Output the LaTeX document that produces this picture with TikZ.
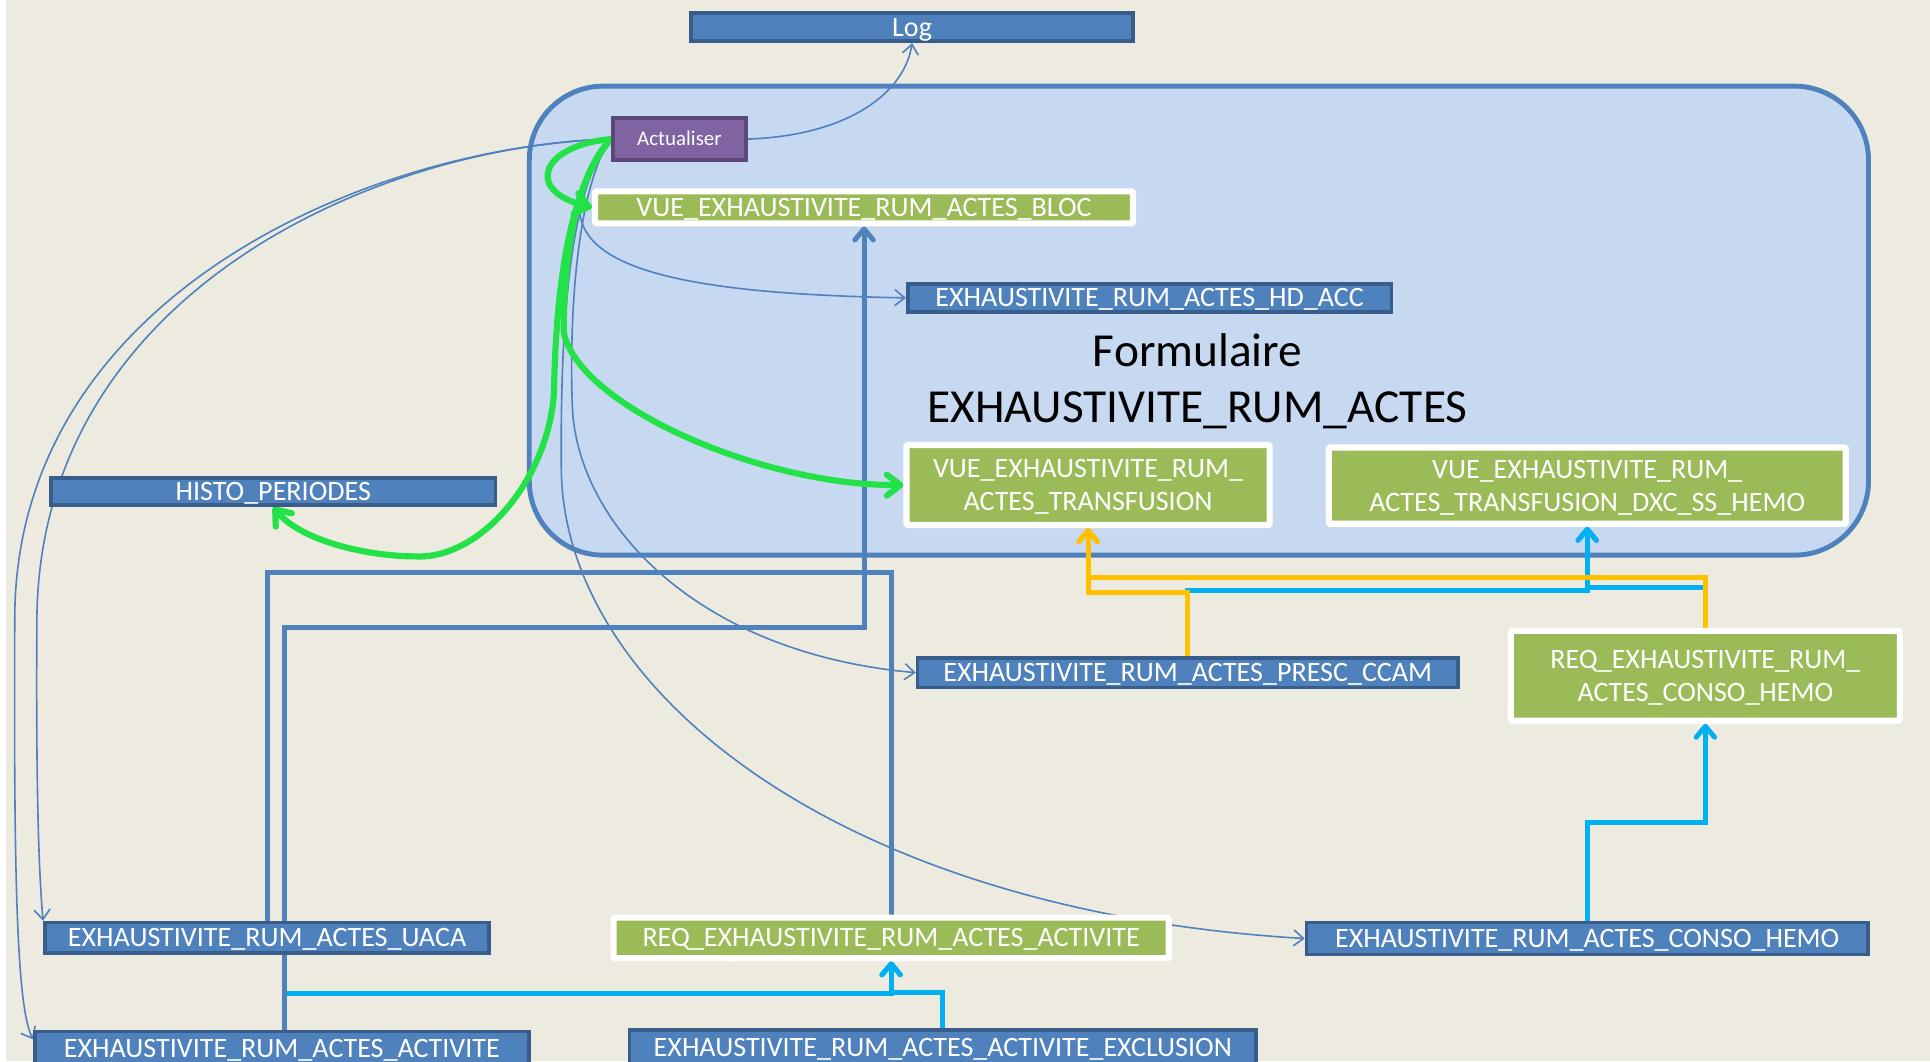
\documentclass[tikz,border=0pt]{standalone}
\usepackage{fontspec}
\setmainfont{Carlito}
\usetikzlibrary{arrows.meta}
\definecolor{bgc}{RGB}{237,235,224}
\definecolor{bfill}{RGB}{79,129,189}
\definecolor{bdark}{RGB}{56,93,138}
\definecolor{gfill}{RGB}{155,187,89}
\definecolor{pfill}{RGB}{128,100,162}
\definecolor{pdark}{RGB}{93,71,120}
\definecolor{cfill}{RGB}{198,217,241}
\definecolor{garrow}{RGB}{35,226,71}
\definecolor{cyanl}{RGB}{0,176,240}
\definecolor{yell}{RGB}{255,192,0}
\pgfdeclarelayer{bglayer}
\pgfdeclarelayer{connlayer}
\pgfsetlayers{bglayer,connlayer,main}
\begin{document}
\begin{tikzpicture}[x=1pt,y=-1pt,
  boxfont/.style={font=\fontsize{22.8}{27}\selectfont, text height=14.7pt, text depth=0pt},
  twoline/.style={text height=41.7pt, text depth=0pt},
  bbox/.style={draw=bdark, fill=bfill, line width=3pt, text=white, inner sep=0pt, boxfont},
  gbox/.style={draw=white, fill=gfill, line width=5pt, text=white, inner sep=0pt, align=center, boxfont, rounded corners=1pt},
  pbox/.style={draw=pdark, fill=pfill, line width=3.5pt, text=white, inner sep=0pt, font=\fontsize{17}{20}\selectfont, text height=11pt, text depth=0pt},
  container/.style={draw=bfill, fill=cfill, line width=4pt, rounded corners=60pt},
  tb/.style={draw=bfill, line width=4pt},
  tbarrow/.style={tb, -{Straight Barb[length=9pt,width=15pt,round]}},
  cyarrow/.style={draw=cyanl, line width=4pt, -{Straight Barb[length=9pt,width=15pt,round]}},
  yarrow/.style={draw=yell, line width=4pt, -{Straight Barb[length=9pt,width=15pt,round]}},
  grarrow/.style={draw=garrow, line width=5pt, -{Straight Barb[length=11pt,width=17pt,round]}},
  thinb/.style={draw=bfill, line width=1.3pt, -{Straight Barb[length=8pt,width=13pt]}}
]
\useasboundingbox (0,0) rectangle (1568,862);
\begin{pgfonlayer}{bglayer}
\clip (0,0) rectangle (1568,862);
\fill[white] (0,0) rectangle (1568,862);
\fill[bgc] (5,0) rectangle (1568,862);
% container
\path[container] (430,70) rectangle (1518,451);
\end{pgfonlayer}

% nodes
\node[bbox, minimum width=359pt, minimum height=23pt] (log) at (741,22) {Log};
\node[pbox, minimum width=108pt, minimum height=34pt] (act) at (552,113) {Actualiser};
\node[gbox, minimum width=437pt, minimum height=26pt] (bloc) at (702,168.5) {VUE\_EXHAUSTIVITE\_RUM\_ACTES\_BLOC};
\node[bbox, minimum width=393pt, minimum height=23pt] (hdacc) at (934,242) {EXHAUSTIVITE\_RUM\_ACTES\_HD\_ACC};
\node[font=\fontsize{38.5}{46}\selectfont, align=center, inner sep=0pt, text height=70.8pt, text depth=0pt] (form) at (973,308) {Formulaire\\EXHAUSTIVITE\_RUM\_ACTES};
\node[gbox, twoline, minimum width=295pt, minimum height=65pt] (transf) at (884,394) {VUE\_EXHAUSTIVITE\_RUM\_\\ACTES\_TRANSFUSION};
\node[gbox, twoline, minimum width=420pt, minimum height=62pt] (dxc) at (1289.5,394.5) {VUE\_EXHAUSTIVITE\_RUM\_\\ACTES\_TRANSFUSION\_DXC\_SS\_HEMO};
\node[bbox, minimum width=361pt, minimum height=22pt] (histo) at (222,399.5) {HISTO\_PERIODES};
\node[bbox, minimum width=439pt, minimum height=24pt] (presc) at (965,546.5) {EXHAUSTIVITE\_RUM\_ACTES\_PRESC\_CCAM};
\node[gbox, twoline, minimum width=316pt, minimum height=73pt] (reqconso) at (1385.5,549) {REQ\_EXHAUSTIVITE\_RUM\_\\ACTES\_CONSO\_HEMO};
\node[bbox, minimum width=361pt, minimum height=25pt] (uaca) at (217,762) {EXHAUSTIVITE\_RUM\_ACTES\_UACA};
\node[gbox, minimum width=451pt, minimum height=33pt] (reqact) at (724,762) {REQ\_EXHAUSTIVITE\_RUM\_ACTES\_ACTIVITE};
\node[bbox, minimum width=456pt, minimum height=26pt] (conso) at (1289.5,762.5) {EXHAUSTIVITE\_RUM\_ACTES\_CONSO\_HEMO};
\node[bbox, minimum width=401pt, minimum height=28pt] (activ) at (229,852) {EXHAUSTIVITE\_RUM\_ACTES\_ACTIVITE};
\node[bbox, minimum width=509pt, minimum height=28pt] (excl) at (766,851) {EXHAUSTIVITE\_RUM\_ACTES\_ACTIVITE\_EXCLUSION};

\begin{pgfonlayer}{connlayer}
% cyan connectors
\draw[cyarrow] ([xshift=2pt]activ.north) -- ++(0,-29) -| (reqact.south);
\draw[cyarrow] (excl.north) -- ++(0,-29) -| (reqact.south);
\draw[cyarrow] (conso.north) -- ++(0,-80) -| (reqconso.south);
\draw[cyarrow] (reqconso.north) -- ++(0,-33) -| (dxc.south);
\draw[cyarrow] (presc.north) -- ++(0,-53) -| (dxc.south);

% yellow connectors
\draw[yarrow] (presc.north) -- ++(0,-52) -| (transf.south);
\draw[yarrow] (reqconso.north) -- ++(0,-41) -| (transf.south);

% thick blue connectors
\draw[tbarrow] ([xshift=2pt]activ.north) -- ++(0,-327) -| (bloc.south);
\draw[tb] (uaca.north) -- ++(0,-283) -| (reqact.north);

% thin blue connectors from Actualiser
\draw[thinb] (act.east) .. controls (690,110) and (735,75) .. (log.south);
\draw[thinb] (act.west) .. controls (420,210) and (520,238) .. (hdacc.west);
\draw[thinb] (act.west) .. controls (470,150) and (462,250) .. (465,330) .. controls (468,420) and (560,530) .. (presc.west);
\draw[thinb] (act.west) .. controls (465,150) and (455,250) .. (456,380) .. controls (457,560) and (680,740) .. (conso.west);
\draw[thinb] (act.west) .. controls (310,118) and (34,235) .. (30,500) .. controls (29,650) and (32,715) .. (uaca.north west);
\draw[thinb] (act.west) .. controls (300,119) and (14,240) .. (12,500) .. controls (11,720) and (14,820) .. ([yshift=-8pt]activ.north west);

% green connectors from Actualiser
\draw[grarrow] (act.west) .. controls (440,118) and (425,155) .. (bloc.west);
\draw[grarrow] (act.west) .. controls (470,140) and (458,200) .. (458,270) .. controls (470,330) and (620,395) .. (transf.west);
\draw[grarrow] (act.west) .. controls (465,150) and (452,220) .. (450,320) .. controls (445,390) and (390,455) .. (337,452) .. controls (300,452) and (245,440) .. (histo.south);
\end{pgfonlayer}
\end{tikzpicture}
\end{document}
